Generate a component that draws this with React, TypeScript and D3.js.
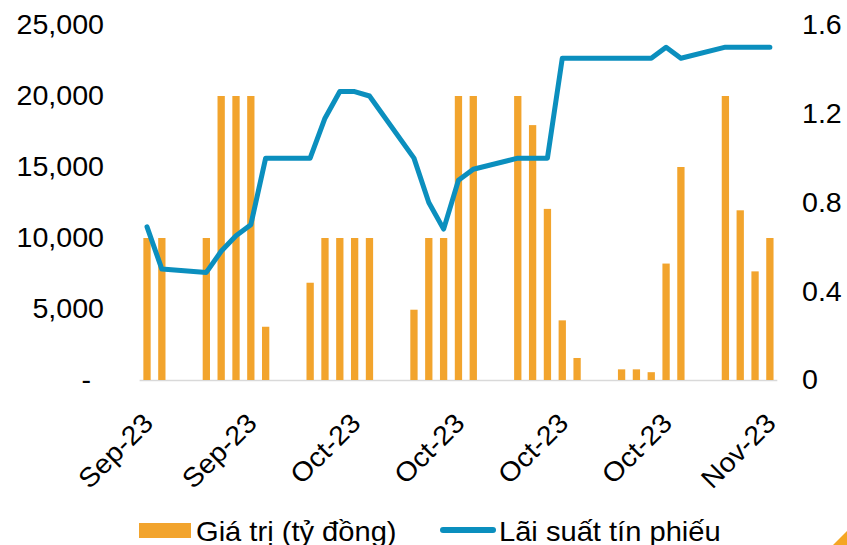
import React from "react";
import * as d3 from "d3";

const dates: string[] = [
  "2023-09-21", "2023-09-22", "2023-09-25", "2023-09-26", "2023-09-27", "2023-09-28", "2023-09-29",
  "2023-10-02", "2023-10-03", "2023-10-04", "2023-10-05", "2023-10-06",
  "2023-10-09", "2023-10-10", "2023-10-11", "2023-10-12", "2023-10-13",
  "2023-10-16", "2023-10-17", "2023-10-18", "2023-10-19", "2023-10-20",
  "2023-10-23", "2023-10-24", "2023-10-25", "2023-10-26", "2023-10-27",
  "2023-10-30", "2023-10-31", "2023-11-01", "2023-11-02",
];
const values: number[] = [
  10000, 10000, 10000, 20000, 20000, 20000, 3750,
  6850, 10000, 10000, 10000, 10000,
  4950, 10000, 10000, 20000, 20000,
  20000, 17950, 12050, 4200, 1550,
  750, 750, 550, 8200, 15000,
  20000, 11950, 7650, 10000,
];
const rates: number[] = [
  0.69, 0.5, 0.485, 0.58, 0.65, 0.7, 1.0,
  1.0, 1.18, 1.3, 1.3, 1.28,
  1.0, 0.8, 0.68, 0.9, 0.95,
  1.0, 1.0, 1.0, 1.45, 1.45,
  1.45, 1.45, 1.45, 1.5, 1.45,
  1.5, 1.5, 1.5, 1.5,
];
const tickDates: string[] = ["2023-09-21", "2023-09-28", "2023-10-05", "2023-10-12", "2023-10-19", "2023-10-26", "2023-11-02"];
const leftTicks: number[] = [0, 5000, 10000, 15000, 20000, 25000];
const rightTicks: number[] = [0, 0.4, 0.8, 1.2, 1.6];
const legendLabels: string[] = ["Giá trị (tỷ đồng)", "Lãi suất tín phiếu"];

const ORANGE = "#f2a42d";
const BLUE = "#0b8fbe";
const FONT = "'Liberation Sans', Arial, sans-serif";
const DAY = 86400000;
const SX = 1.06;

type TProps = {
  x: number;
  y: number;
  anchor?: "start" | "end" | "middle";
  rotate?: number;
  size?: number;
  sx?: number;
  children: React.ReactNode;
};

function T({ x, y, anchor = "start", rotate = 0, size = 27, sx = SX, children }: TProps) {
  return (
    <g transform={`translate(${x},${y}) rotate(${rotate}) scale(${sx},1)`}>
      <text x={0} y={0} dy="0.35em" textAnchor={anchor} fontFamily={FONT} fontSize={size} fill="#000">
        {children}
      </text>
    </g>
  );
}

export default function App() {
  const parse = (s: string) => new Date(s + "T00:00:00Z");
  const first = parse(dates[0]);
  const last = parse(dates[dates.length - 1]);
  const x = d3
    .scaleUtc()
    .domain([new Date(first.getTime() - DAY / 2), new Date(last.getTime() + DAY / 2)])
    .range([139.6, 777.3]);
  const yL = d3.scaleLinear().domain([0, 25000]).range([380, 25]);
  const yR = d3.scaleLinear().domain([0, 1.6]).range([380, 25]);
  const barW = 7.3;
  const fmtL = (v: number) => (v === 0 ? "-" : d3.format(",")(v));
  const monthFmt = d3.utcFormat("%b-%y");

  const line = d3
    .line<number>()
    .x((_, i) => x(parse(dates[i])))
    .y((d) => yR(d));

  return (
    <svg width={847} height={545} style={{ position: "absolute", left: 0, top: 0, background: "#fff" }}>
      <rect x={0} y={0} width={847} height={545} fill="#fff" />
      {/* baseline */}
      <line x1={x.range()[0]} x2={x.range()[1]} y1={380.5} y2={380.5} stroke="#d9d9d9" strokeWidth={1.5} />
      {/* bars */}
      {values.map((v, i) => (
        <rect
          key={i}
          x={x(parse(dates[i])) - barW / 2}
          y={yL(v)}
          width={barW}
          height={yL(0) - yL(v)}
          fill={ORANGE}
        />
      ))}
      {/* line */}
      <path d={line(rates) || ""} fill="none" stroke={BLUE} strokeWidth={5} strokeLinejoin="round" strokeLinecap="round" />
      {/* left axis */}
      {leftTicks.map((t) => (
        <T key={t} x={t === 0 ? 91 : 104} y={yL(t)} anchor="end">
          {fmtL(t)}
        </T>
      ))}
      {/* right axis */}
      {rightTicks.map((t) => (
        <T key={t} x={802} y={yR(t)} anchor="start">
          {t === 0 ? "0" : t.toFixed(1)}
        </T>
      ))}
      {/* x axis labels */}
      {tickDates.map((d) => (
        <T key={d} x={x(parse(d)) + 1} y={418} anchor="end" rotate={-45}>
          {monthFmt(parse(d))}
        </T>
      ))}
      {/* legend */}
      <rect x={139} y={523} width={52} height={15} fill={ORANGE} />
      <T x={196} y={531} size={28} sx={1.04}>
        {legendLabels[0]}
      </T>
      <line x1={443} x2={493} y1={530} y2={530} stroke={BLUE} strokeWidth={6} strokeLinecap="round" />
      <T x={499} y={531} size={28} sx={1.04}>
        {legendLabels[1]}
      </T>
      {/* corner decoration */}
      <polygon points="833,545 847,531 847,545" fill="#f5a623" />
    </svg>
  );
}
